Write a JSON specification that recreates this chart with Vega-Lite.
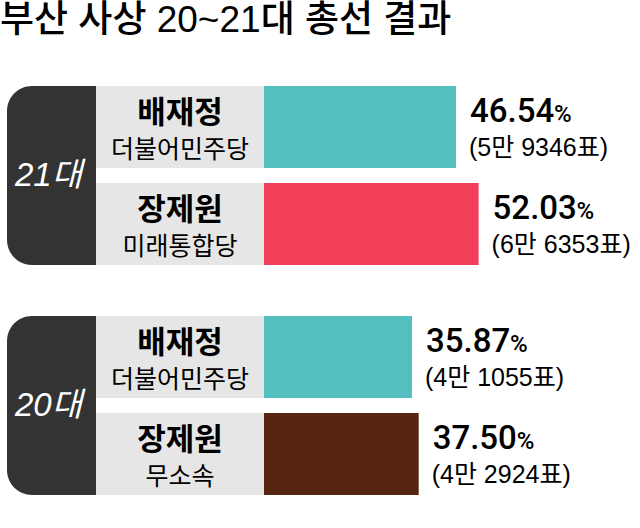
{
  "$schema": "https://vega.github.io/schema/vega-lite/v6.json",
  "padding": {"left": 0, "top": 2, "right": 0, "bottom": 0},
  "background": "white",
  "title": {
    "text": "부산 사상 20~21대 총선 결과",
    "anchor": "start",
    "font": "Liberation Sans, Noto Sans CJK KR",
    "fontSize": 37,
    "fontWeight": 500,
    "color": "black",
    "offset": 46
  },
  "datasets": {
    "results": [
      {"election": "21대", "order": 1, "name": "배재정", "party": "더불어민주당", "share": 46.54, "votes": "(5만 9346표)"},
      {"election": "21대", "order": 2, "name": "장제원", "party": "미래통합당", "share": 52.03, "votes": "(6만 6353표)"},
      {"election": "20대", "order": 1, "name": "배재정", "party": "더불어민주당", "share": 35.87, "votes": "(4만 1055표)"},
      {"election": "20대", "order": 2, "name": "장제원", "party": "무소속", "share": 37.50, "votes": "(4만 2924표)"}
    ]
  },
  "vconcat": [
    {
      "spacing": 0,
      "hconcat": [
        {
          "data": {"name": "results"},
          "transform": [{"filter": "datum.election === '21대' && datum.order === 1"}],
          "width": 96,
          "height": 179,
          "encoding": {
            "x": {"field": "election", "type": "nominal", "axis": null, "scale": {"paddingInner": 0, "paddingOuter": 0.03933, "align": 1}},
            "y": {"field": "election", "type": "nominal", "axis": null, "scale": {"paddingInner": 0, "paddingOuter": 0}}
          },
          "layer": [
            {"mark": {"type": "rect", "color": "#333333", "cornerRadiusTopLeft": 25, "cornerRadiusBottomLeft": 25}},
            {"mark": {"type": "text", "color": "white", "font": "Liberation Sans, Noto Sans CJK KR", "fontSize": 33, "fontStyle": "italic", "baseline": "alphabetic", "dy": 10, "dx": -3}, "encoding": {"text": {"field": "election"}}}
          ]
        },
        {
          "data": {"name": "results"},
          "transform": [{"filter": "datum.election === '21대'"}],
          "width": 168,
          "height": 179,
          "encoding": {
            "x": {"field": "election", "type": "nominal", "axis": null, "scale": {"paddingInner": 0, "paddingOuter": 0}},
            "y": {"field": "order", "type": "ordinal", "axis": null, "scale": {"paddingInner": 0.1546, "paddingOuter": 0}}
          },
          "layer": [
            {"mark": {"type": "rect", "color": "#e6e6e6"}},
            {"mark": {"type": "text", "color": "black", "font": "Noto Sans CJK KR", "fontSize": 31, "fontWeight": "bold", "baseline": "alphabetic", "dy": -4}, "encoding": {"text": {"field": "name"}}},
            {"mark": {"type": "text", "color": "black", "font": "Noto Sans CJK KR", "fontSize": 25, "fontWeight": "normal", "baseline": "alphabetic", "dy": 31}, "encoding": {"text": {"field": "party"}}}
          ]
        },
        {
          "data": {"name": "results"},
          "transform": [{"filter": "datum.election === '21대'"}],
          "width": 370,
          "height": 179,
          "encoding": {
            "x": {"field": "share", "type": "quantitative", "axis": null, "scale": {"domain": [0, 89.7], "nice": false}},
            "y": {"field": "order", "type": "ordinal", "axis": null, "scale": {"paddingInner": 0.1546, "paddingOuter": 0}}
          },
          "layer": [
            {"mark": {"type": "bar"}, "encoding": {"color": {"field": "party", "type": "nominal", "legend": null, "scale": {"domain": ["더불어민주당", "미래통합당", "무소속"], "range": ["#55bfbf", "#f2405a", "#562611"]}}}},
            {"mark": {"type": "text", "align": "left", "baseline": "alphabetic", "dx": 14, "dy": -5, "font": "Roboto", "fontSize": 33, "fontWeight": 500, "color": "black"}, "encoding": {"text": {"field": "share", "type": "quantitative", "format": ".2f"}}},
            {"mark": {"type": "text", "align": "left", "baseline": "alphabetic", "dx": 98, "dy": -5, "font": "Roboto", "fontSize": 24, "fontWeight": 500, "color": "black", "text": "%"}},
            {"mark": {"type": "text", "align": "left", "baseline": "alphabetic", "dx": 13, "dy": 29, "font": "Liberation Sans, Noto Sans CJK KR", "fontSize": 25, "color": "black"}, "encoding": {"text": {"field": "votes"}}}
          ]
        }
      ]
    },
    {
      "spacing": 0,
      "hconcat": [
        {
          "data": {"name": "results"},
          "transform": [{"filter": "datum.election === '20대' && datum.order === 1"}],
          "width": 96,
          "height": 179,
          "encoding": {
            "x": {"field": "election", "type": "nominal", "axis": null, "scale": {"paddingInner": 0, "paddingOuter": 0.03933, "align": 1}},
            "y": {"field": "election", "type": "nominal", "axis": null, "scale": {"paddingInner": 0, "paddingOuter": 0}}
          },
          "layer": [
            {"mark": {"type": "rect", "color": "#333333", "cornerRadiusTopLeft": 25, "cornerRadiusBottomLeft": 25}},
            {"mark": {"type": "text", "color": "white", "font": "Liberation Sans, Noto Sans CJK KR", "fontSize": 33, "fontStyle": "italic", "baseline": "alphabetic", "dy": 10, "dx": -3}, "encoding": {"text": {"field": "election"}}}
          ]
        },
        {
          "data": {"name": "results"},
          "transform": [{"filter": "datum.election === '20대'"}],
          "width": 168,
          "height": 179,
          "encoding": {
            "x": {"field": "election", "type": "nominal", "axis": null, "scale": {"paddingInner": 0, "paddingOuter": 0}},
            "y": {"field": "order", "type": "ordinal", "axis": null, "scale": {"paddingInner": 0.1546, "paddingOuter": 0}}
          },
          "layer": [
            {"mark": {"type": "rect", "color": "#e6e6e6"}},
            {"mark": {"type": "text", "color": "black", "font": "Noto Sans CJK KR", "fontSize": 31, "fontWeight": "bold", "baseline": "alphabetic", "dy": -4}, "encoding": {"text": {"field": "name"}}},
            {"mark": {"type": "text", "color": "black", "font": "Noto Sans CJK KR", "fontSize": 25, "fontWeight": "normal", "baseline": "alphabetic", "dy": 31}, "encoding": {"text": {"field": "party"}}}
          ]
        },
        {
          "data": {"name": "results"},
          "transform": [{"filter": "datum.election === '20대'"}],
          "width": 370,
          "height": 179,
          "encoding": {
            "x": {"field": "share", "type": "quantitative", "axis": null, "scale": {"domain": [0, 89.7], "nice": false}},
            "y": {"field": "order", "type": "ordinal", "axis": null, "scale": {"paddingInner": 0.1546, "paddingOuter": 0}}
          },
          "layer": [
            {"mark": {"type": "bar"}, "encoding": {"color": {"field": "party", "type": "nominal", "legend": null, "scale": {"domain": ["더불어민주당", "미래통합당", "무소속"], "range": ["#55bfbf", "#f2405a", "#562611"]}}}},
            {"mark": {"type": "text", "align": "left", "baseline": "alphabetic", "dx": 14, "dy": -5, "font": "Roboto", "fontSize": 33, "fontWeight": 500, "color": "black"}, "encoding": {"text": {"field": "share", "type": "quantitative", "format": ".2f"}}},
            {"mark": {"type": "text", "align": "left", "baseline": "alphabetic", "dx": 98, "dy": -5, "font": "Roboto", "fontSize": 24, "fontWeight": 500, "color": "black", "text": "%"}},
            {"mark": {"type": "text", "align": "left", "baseline": "alphabetic", "dx": 13, "dy": 29, "font": "Liberation Sans, Noto Sans CJK KR", "fontSize": 25, "color": "black"}, "encoding": {"text": {"field": "votes"}}}
          ]
        }
      ]
    }
  ],
  "spacing": 51,
  "config": {"view": {"stroke": null}}
}
